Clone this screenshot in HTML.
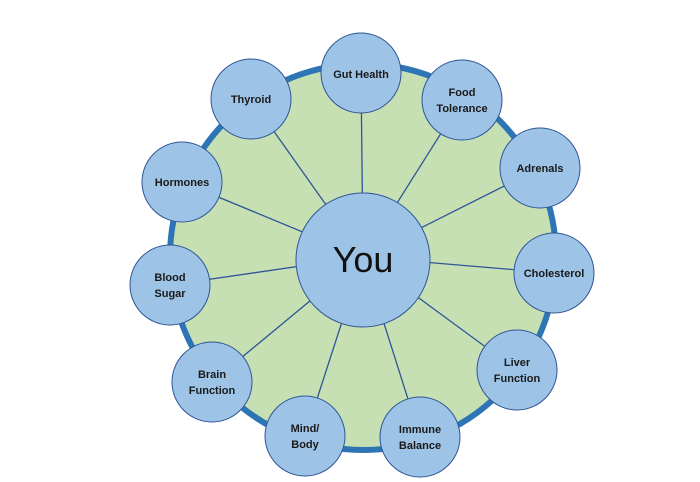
<!DOCTYPE html>
<html><head><style>body{margin:0;background:#fff}svg{display:block}</style></head><body>
<svg width="700" height="482" viewBox="0 0 700 482" xmlns="http://www.w3.org/2000/svg" font-family="Liberation Sans, sans-serif">
<circle cx="363" cy="257" r="193" fill="#c6e0b4" stroke="#2e75b6" stroke-width="6"/>
<g stroke="#2f5597" stroke-width="1.3">
<line x1="363" y1="257" x2="361" y2="73"/>
<line x1="363" y1="257" x2="462" y2="100"/>
<line x1="363" y1="257" x2="540" y2="168"/>
<line x1="363" y1="257" x2="554" y2="273"/>
<line x1="363" y1="257" x2="517" y2="370"/>
<line x1="363" y1="257" x2="420" y2="437"/>
<line x1="363" y1="257" x2="305" y2="436"/>
<line x1="363" y1="257" x2="212" y2="382"/>
<line x1="363" y1="257" x2="170" y2="285"/>
<line x1="363" y1="257" x2="182" y2="182"/>
<line x1="363" y1="257" x2="251" y2="99"/>
</g>
<g fill="#9dc3e6" stroke="#2f5597" stroke-width="1">
<circle cx="363" cy="260" r="67"/>
<circle cx="361" cy="73" r="40"/>
<circle cx="462" cy="100" r="40"/>
<circle cx="540" cy="168" r="40"/>
<circle cx="554" cy="273" r="40"/>
<circle cx="517" cy="370" r="40"/>
<circle cx="420" cy="437" r="40"/>
<circle cx="305" cy="436" r="40"/>
<circle cx="212" cy="382" r="40"/>
<circle cx="170" cy="285" r="40"/>
<circle cx="182" cy="182" r="40"/>
<circle cx="251" cy="99" r="40"/>
</g>
<g font-size="11" font-weight="bold" fill="#1a1a1a" text-anchor="middle">
<text x="361" y="78">Gut Health</text>
<text x="462" y="96">Food</text><text x="462" y="112">Tolerance</text>
<text x="540" y="172">Adrenals</text>
<text x="554" y="277">Cholesterol</text>
<text x="517" y="366">Liver</text><text x="517" y="382">Function</text>
<text x="420" y="433">Immune</text><text x="420" y="449">Balance</text>
<text x="305" y="432">Mind/</text><text x="305" y="448">Body</text>
<text x="212" y="378">Brain</text><text x="212" y="394">Function</text>
<text x="170" y="281">Blood</text><text x="170" y="297">Sugar</text>
<text x="182" y="186">Hormones</text>
<text x="251" y="103">Thyroid</text>
</g>
<text x="363" y="272" font-size="36" text-anchor="middle" fill="#111">You</text>
</svg>
</body></html>
